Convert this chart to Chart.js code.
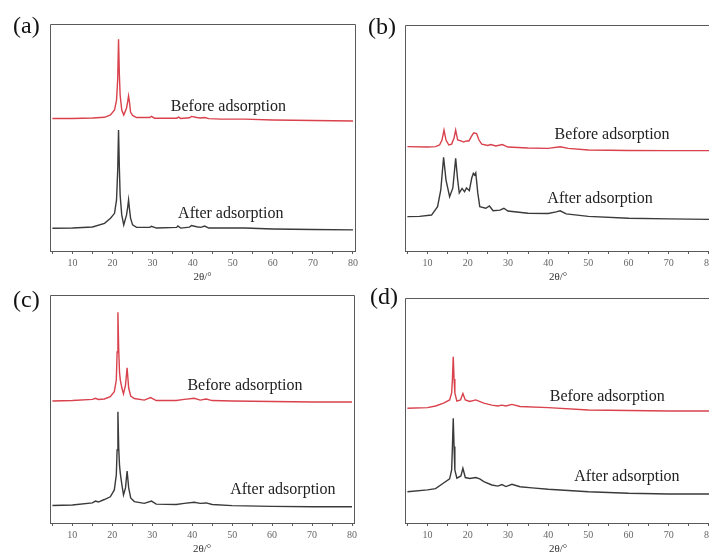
<!DOCTYPE html>
<html>
<head>
<meta charset="utf-8">
<script src="https://cdn.jsdelivr.net/npm/chart.js@4/dist/chart.umd.min.js"></script>
<style>
  html, body { margin: 0; padding: 0; background: #fff; }
  #wrap { position: relative; width: 709px; height: 554px; overflow: hidden; background: #fff; }
  canvas { position: absolute; }
</style>
</head>
<body>
<div id="wrap">
  <canvas id="panelA" width="362" height="287" style="left:0;top:0"></canvas>
  <canvas id="panelB" width="362" height="287" style="left:355px;top:0"></canvas>
  <canvas id="panelC" width="362" height="289" style="left:0;top:270px"></canvas>
  <canvas id="panelD" width="362" height="289" style="left:355px;top:270px"></canvas>
</div>
<script>
// x tick values (2theta, degrees) - labels only on the tens
var tickValues = [5, 10, 15, 20, 25, 30, 35, 40, 45, 50, 55, 60, 65, 70, 75, 80];
var tickLabels = ['', '10', '', '20', '', '30', '', '40', '', '50', '', '60', '', '70', '', '80'];

// XRD patterns, [2theta, stacked intensity in plot units 0-100]
var aBefore = [[5,58.4],[10,58.4],[15,58.6],[18,58.9],[19.5,59.9],[20.5,62.1],[21,66.5],[21.3,76],[21.5,93.3],[21.7,78],[21.9,68.7],[22.3,62.1],[22.8,59.9],[23.5,63],[23.8,66],[24,68.3],[24.2,66],[24.5,61.2],[25,59.7],[26,58.8],[29.3,58.8],[29.7,59.3],[30.5,58.5],[36,58.5],[36.5,59],[37,58.4],[39.2,58.7],[39.7,59.3],[41,58.8],[42,58.6],[43,58.8],[44,58.3],[47,58.1],[53,58.1],[60,57.7],[70,57.5],[80,57.3]];
var aAfter = [[5,10],[10,10.1],[15,10.6],[18,12.2],[19.5,14.4],[20.5,16.6],[21,22.5],[21.3,36],[21.5,53.3],[21.7,37],[21.9,24.7],[22.3,15.9],[22.8,11.5],[23.5,15.9],[23.8,19.5],[24,22.5],[24.2,19],[24.5,14.5],[25,11.5],[26,10.4],[29.3,10.4],[29.7,10.9],[31,10.1],[36,10.4],[36.3,11],[37,10.1],[39.2,10.5],[39.7,11.2],[41,10.7],[42,10.4],[43,11],[44,10.1],[47,10.1],[53,10.1],[60,9.7],[70,9.5],[80,9.3]];

var bBefore = [[5,46.2],[10,46],[12,46.2],[13,46.9],[13.6,49.1],[14.1,53.5],[14.6,49.1],[15.3,46.9],[16,47.3],[16.6,50],[17,53.5],[17.5,49.1],[18.3,48.7],[19,48.2],[19.6,48.7],[20.3,48.7],[21,50.9],[21.5,52.3],[22.2,52],[22.8,49.1],[23.5,47.3],[25,46.7],[25.7,47.1],[27,46.5],[28.6,47.1],[30,46],[35,45.6],[40,45.4],[43,46.1],[45,45.4],[50,44.7],[60,44.5],[70,44.4],[80,44.4]];
var bAfter = [[5,15.2],[8,15.3],[11,15.9],[12.5,19.6],[13.3,27],[14,41.5],[14.6,31.4],[15.5,24],[16.3,27.9],[17,41],[17.5,31.4],[17.9,25.7],[18.6,27.7],[19.2,26.2],[19.7,27.9],[20.4,26.7],[21,32.3],[21.4,34.4],[21.7,33.6],[22,34.6],[22.5,25.7],[23,19.6],[24.5,18.9],[25.4,19.9],[26.3,17.8],[28,18.1],[29,18.9],[30,17.7],[35,16.7],[40,16.6],[42,17.3],[43,17.8],[44.5,16.4],[50,15.3],[60,14.5],[70,14.2],[80,14]];

var cBefore = [[5,53.5],[10,53.7],[15,54.2],[15.8,54.7],[16.5,54.2],[18,54.4],[19.5,55.4],[20.5,57.6],[21,62.7],[21.2,75],[21.4,92.4],[21.6,76],[21.8,66.2],[22,62.7],[22.4,59.2],[22.8,56.6],[23.3,60.5],[23.7,68.1],[24.1,59.2],[24.6,55.7],[25.5,54.6],[28,53.9],[29.6,55],[31,53.7],[36,53.7],[38,54.2],[40.5,54.7],[42,53.9],[43.5,54.4],[45,53.7],[50,53.5],[60,53.3],[70,53.1],[80,53.1]];
var cAfter = [[5,7.7],[10,7.9],[15,8.8],[15.8,9.6],[16.5,9.2],[18,10.3],[19.5,11.5],[20.5,14.5],[21,21.1],[21.2,32],[21.4,48.8],[21.6,33],[21.8,25.4],[22,21.8],[22.4,16.7],[22.8,12.3],[23.3,15.4],[23.7,22.8],[24.1,15.4],[24.6,11],[25.5,9.4],[28,8.6],[29.8,9.6],[31,8.3],[36,8.1],[38,8.6],[40.5,9.1],[42,8.6],[43.5,8.8],[45,8.1],[50,7.6],[60,7.3],[70,7.1],[80,7.1]];

var dBefore = [[5,51],[10,51.3],[12,52],[14,53.3],[15.5,54.7],[16,57.8],[16.2,64],[16.4,73.9],[16.6,64],[16.8,57.8],[17.3,54.2],[18.2,54.7],[18.8,57.6],[19.4,54.7],[20.5,54],[22,54.7],[24,53.3],[26,52.4],[27.5,52],[28.5,52.4],[29.5,52],[31,52.7],[33,51.8],[40,51.3],[50,50.2],[60,50],[70,49.8],[80,49.8]];
var dAfter = [[5,13.9],[10,14.7],[12,15.3],[14,17.8],[15.5,19.6],[16,23.6],[16.2,34],[16.4,46.5],[16.6,34],[16.8,23.6],[17.3,19.9],[18.3,20.9],[18.8,24.3],[19.4,20.2],[20.5,19.8],[22,20.2],[23,19.6],[24,18.4],[26,16.9],[27.5,16.4],[28.5,17.1],[29.5,16.2],[31,17.2],[33,16.1],[36,15.6],[40,15],[50,13.9],[60,13.2],[70,12.9],[80,12.9]];

var redLine = '#d9424c';
var darkLine = '#3a3a3a';
var frameColor = '#5a5a5a';

// frame around plot area + curve captions + panel letter
var panelDecor = {
    id: 'panelDecor',
    afterDraw: function (chart, args, opts) {
        var ctx = chart.ctx, ca = chart.chartArea;
        var xs = chart.scales.x, ys = chart.scales.y;
        ctx.save();
        ctx.strokeStyle = frameColor;
        ctx.lineWidth = 1;
        var l = Math.floor(ca.left) + 0.5, t = Math.floor(ca.top) + 0.5;
        var r = Math.floor(ca.right) + 0.5, b = Math.floor(ca.bottom) + 0.5;
        ctx.beginPath();
        ctx.moveTo(l, b); ctx.lineTo(l, t); ctx.lineTo(r, t); ctx.lineTo(r, b);
        ctx.stroke();

        ctx.fillStyle = '#222';
        ctx.font = '16px "Liberation Serif", serif';
        ctx.textAlign = 'center';
        ctx.textBaseline = 'middle';
        opts.captions.forEach(function (c) {
            ctx.fillText(c.text, xs.getPixelForValue(c.x), ys.getPixelForValue(c.y));
        });

        ctx.fillStyle = '#111';
        ctx.font = '24px "Liberation Serif", serif';
        ctx.textAlign = 'left';
        ctx.fillText(opts.letter, ca.left + opts.letterDx, ca.top + opts.letterDy);
        ctx.restore();
    }
};

function makePanel(id, before, after, pad, letter, letterDx, letterDy, captions) {
    var ctx = document.getElementById(id).getContext('2d');
    return new Chart(ctx, {
        type: 'line',
        data: {
            datasets: [
                { label: 'Before adsorption', data: before.map(function (p) { return {x: p[0], y: p[1]}; }),
                  borderColor: redLine, borderWidth: 1.4 },
                { label: 'After adsorption', data: after.map(function (p) { return {x: p[0], y: p[1]}; }),
                  borderColor: darkLine, borderWidth: 1.4 }
            ]
        },
        options: {
            responsive: false,
            animation: false,
            events: [],
            layout: { padding: pad },
            elements: { point: { radius: 0 }, line: { tension: 0 } },
            scales: {
                x: {
                    type: 'linear',
                    min: 4.4,
                    max: 80.5,
                    afterBuildTicks: function (s) {
                        s.ticks = tickValues.map(function (v) { return {value: v}; });
                    },
                    afterFit: function (s) { s.height = 36; },
                    grid: { display: true, drawOnChartArea: false, drawTicks: true, tickLength: 3, color: frameColor },
                    border: { display: true, color: frameColor, width: 1 },
                    ticks: {
                        autoSkip: false,
                        maxRotation: 0,
                        padding: 3,
                        color: '#666',
                        font: { family: '"Liberation Serif", serif', size: 10 },
                        callback: function (v, i) { return tickLabels[i]; }
                    },
                    title: {
                        display: true,
                        text: '2θ/°',
                        color: '#333',
                        font: { family: '"Liberation Serif", serif', size: 11 },
                        padding: { top: 0, bottom: 3 }
                    }
                },
                y: { display: false, min: 0, max: 100 }
            },
            plugins: {
                legend: { display: false },
                tooltip: { enabled: false },
                panelDecor: { letter: letter, letterDx: letterDx, letterDy: letterDy, captions: captions }
            }
        },
        plugins: [panelDecor]
    });
}

makePanel('panelA', aBefore, aAfter, {left: 50, top: 24, right: 7, bottom: 0}, '(a)', -37, 3,
    [{text: 'Before adsorption', x: 48.9, y: 63.4}, {text: 'After adsorption', x: 49.5, y: 16.3}]);
makePanel('panelB', bBefore, bAfter, {left: 50, top: 25, right: 4, bottom: 0}, '(b)', -37, 2.5,
    [{text: 'Before adsorption', x: 55.9, y: 51.3}, {text: 'After adsorption', x: 52.9, y: 23}]);
makePanel('panelC', cBefore, cAfter, {left: 50, top: 25, right: 8, bottom: 0}, '(c)', -37, 6,
    [{text: 'Before adsorption', x: 53.2, y: 60.1}, {text: 'After adsorption', x: 62.7, y: 14.5}]);
makePanel('panelD', dBefore, dAfter, {left: 50, top: 28, right: 4, bottom: 0}, '(d)', -35, 0,
    [{text: 'Before adsorption', x: 54.7, y: 56}, {text: 'After adsorption', x: 59.6, y: 20.4}]);
</script>
</body>
</html>
